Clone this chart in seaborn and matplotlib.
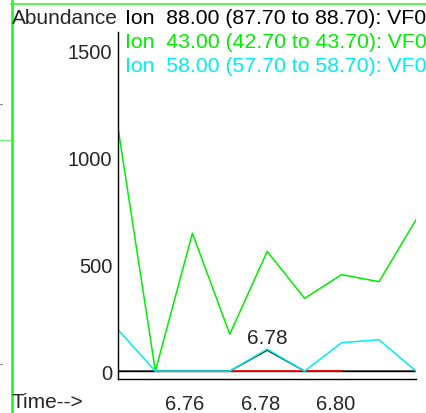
"""Extracted ion chromatogram panel, redrawn with seaborn."""

import matplotlib

matplotlib.use("Agg")
import matplotlib.pyplot as plt
import pandas as pd
import seaborn as sns
from matplotlib.lines import Line2D
from matplotlib.ticker import MultipleLocator

# retention times (min) and abundances
times = [6.7423, 6.7522, 6.7620, 6.7719, 6.7818, 6.7917, 6.8015, 6.8114, 6.8212]
ion_88 = [0, 0, 0, 0, 98, 0, 0, 0, 0]
ion_43 = [1141, 0, 646, 173, 561, 341, 452, 419, 709]
ion_58 = [194, 0, 0, 0, 103, 0, 133, 147, 0]
baseline_times = [6.7719, 6.8015]
baseline_values = [0, 0]

legend_labels = [
    "Ion  88.00 (87.70 to 88.70): VF0",
    "Ion  43.00 (42.70 to 43.70): VF0",
    "Ion  58.00 (57.70 to 58.70): VF0",
]
series_colors = ["black", "#00ee00", "#00eeee"]
peak_label = "6.78"
peak_time = 6.7818
peak_height = 103

W, H = 426, 414
sns.set_style("white")
plt.rcParams["font.family"] = ["Liberation Sans", "DejaVu Sans"]

fig = plt.figure(figsize=(W / 100, H / 100), dpi=100)
ax = fig.add_axes([118 / W, (H - 380) / H, (416 - 118) / W, (380 - 33) / H])

df = pd.DataFrame({"Time": times, "88": ion_88, "43": ion_43, "58": ion_58})
sns.lineplot(data=df, x="Time", y="88", color=series_colors[0], lw=1.0, ax=ax)
sns.lineplot(
    x=baseline_times, y=baseline_values, color="red", lw=1.2, ax=ax
)
sns.lineplot(data=df, x="Time", y="43", color=series_colors[1], lw=1.1, ax=ax)
sns.lineplot(data=df, x="Time", y="58", color=series_colors[2], lw=1.1, ax=ax)

ax.text(peak_time, peak_height + 55, peak_label, ha="center", va="center",
        fontsize=15)

ax.set_xlim(times[0], times[-1])
ax.set_ylim(-37, 1589)
ax.set_xlabel("")
ax.set_ylabel("")
ax.xaxis.set_major_locator(MultipleLocator(0.02))
ax.xaxis.set_minor_locator(MultipleLocator(0.004))
ax.yaxis.set_major_locator(MultipleLocator(500))
ax.yaxis.set_minor_locator(MultipleLocator(100))
ax.set_xticks([6.76, 6.78, 6.80, 6.82])
ax.set_xticklabels(["6.76", "6.78", "6.80", ""])
ax.tick_params(axis="x", which="major", direction="out", length=9, width=1,
               labelsize=14.5, pad=2, color="black")
ax.tick_params(axis="x", which="minor", direction="out", length=5, width=1,
               color="black")
ax.tick_params(axis="y", which="major", direction="out", length=3, width=1,
               labelsize=14.5, pad=1, color="black")
ax.tick_params(axis="y", which="minor", direction="out", length=2, width=1,
               color="black")
for side in ["top", "right"]:
    ax.spines[side].set_visible(False)
for side in ["left", "bottom"]:
    ax.spines[side].set_color("black")
    ax.spines[side].set_linewidth(1.0)
ax.axhline(0, color="black", lw=1.0, zorder=0.5)

# header texts
fig.text(12 / W, 1 - 18 / H, "Abundance", fontsize=15, va="center")
for i, (label, color) in enumerate(zip(legend_labels, series_colors)):
    fig.text(125 / W, 1 - (18 + 24.5 * i) / H, label, color=color,
             fontsize=15.3, va="center")
fig.text(12 / W, 1 - 403 / H, "Time-->", fontsize=15, va="center")

# window frame remnants
fig.add_artist(Line2D([11.5 / W, 11.5 / W], [0, 1], color="#22ee22", lw=1.8))
fig.add_artist(Line2D([11 / W, 1], [1 - 4.5 / H, 1 - 4.5 / H],
                      color="#44ee44", lw=1.3))
fig.add_artist(Line2D([0, 11 / W], [1 - 140.5 / H, 1 - 140.5 / H],
                      color="#77ee77", lw=1.0))
fig.add_artist(Line2D([0, 2 / W], [1 - 105 / H, 1 - 105 / H],
                      color="#888888", lw=0.8))
fig.add_artist(Line2D([0, 2 / W], [1 - 365 / H, 1 - 365 / H],
                      color="#888888", lw=0.8))

fig.savefig("out.png", dpi=100)
